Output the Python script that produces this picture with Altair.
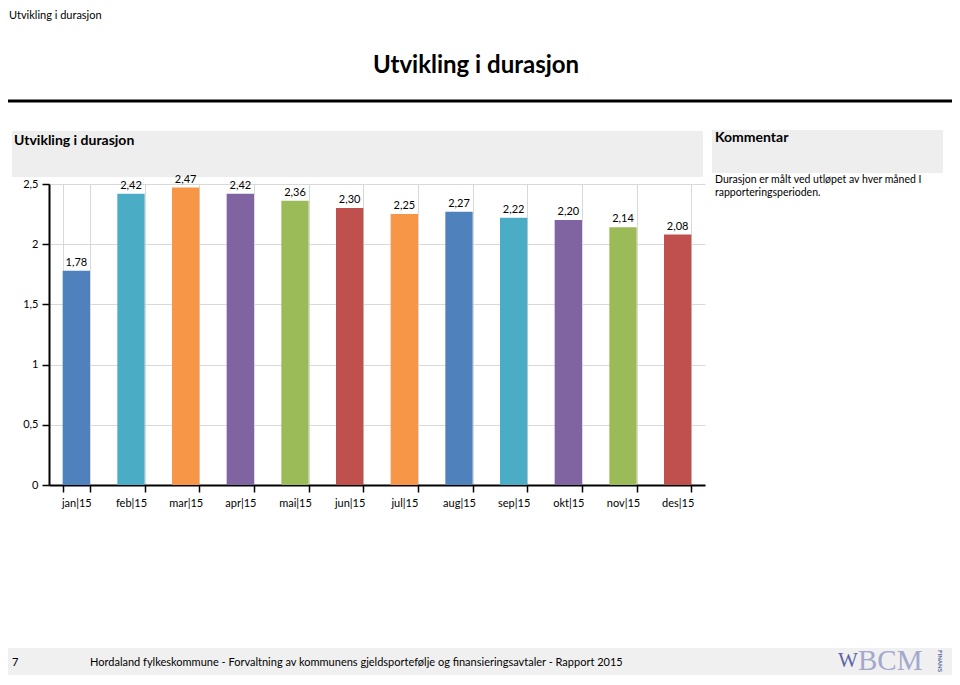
import altair as alt
import pandas as pd

months = ["jan|15", "feb|15", "mar|15", "apr|15", "mai|15", "jun|15",
          "jul|15", "aug|15", "sep|15", "okt|15", "nov|15", "des|15"]
durations = [1.78, 2.42, 2.47, 2.42, 2.36, 2.30, 2.25, 2.27, 2.22, 2.20, 2.14, 2.08]
bar_colors = ["#4F81BD", "#4BACC6", "#F79646", "#8064A2", "#9BBB59", "#C0504D",
              "#F79646", "#4F81BD", "#4BACC6", "#8064A2", "#9BBB59", "#C0504D"]
y_ticks = [0, 0.5, 1, 1.5, 2, 2.5]

FONT = "Lato"
df = pd.DataFrame({"month": months, "duration": durations})
dummy = alt.Data(values=[{"k": 1}])

x_enc = alt.X(
    "month:N", sort=months, title=None,
    scale=alt.Scale(paddingInner=0.5, paddingOuter=0.25),
    axis=alt.Axis(labelAngle=0, tickBand="extent", grid=True, gridColor="#d9d9d9",
                  domainColor="black", domainWidth=2, tickColor="black", tickWidth=1.5,
                  tickSize=7, labelPadding=5, labelFontSize=11, labelColor="black",
                  labelFont=FONT),
)
y_enc = alt.Y(
    "duration:Q", title=None,
    scale=alt.Scale(domain=[0, 2.5], nice=False),
    axis=alt.Axis(values=y_ticks, labelExpr="replace(format(datum.value, '~g'), '.', ',')",
                  grid=True, gridColor="#d9d9d9", domainColor="black", domainWidth=2,
                  tickColor="black", tickWidth=1.5, tickSize=7, labelPadding=4,
                  labelFontSize=11, labelColor="black", labelFont=FONT),
)

bars = alt.Chart(df).mark_bar().encode(
    x=x_enc, y=y_enc,
    color=alt.Color("month:N", scale=alt.Scale(domain=months, range=bar_colors), legend=None),
)
labels = alt.Chart(df).transform_calculate(
    lbl="replace(format(datum.duration, '.2f'), '.', ',')"
).mark_text(dy=-3, baseline="bottom", fontSize=11, font=FONT, color="black").encode(
    x=x_enc, y=y_enc, text="lbl:N"
)


def txt(s, x, y, size=11, weight="normal", align="left", color="black",
        font=FONT, angle=0, baseline="middle"):
    return alt.Chart(dummy).mark_text(
        text=s, fontSize=size, fontWeight=weight, align=align, color=color,
        font=font, angle=angle, baseline=baseline
    ).encode(x=alt.value(x), y=alt.value(y))


def rect(x1, x2, y1, y2, color):
    return alt.Chart(dummy).mark_rect(color=color).encode(
        x=alt.value(x1), x2=alt.value(x2), y=alt.value(y1), y2=alt.value(y2))


decor_back = [
    rect(-37, 654, -53, -7, "#eeeeee"),
    rect(663, 894, -54, -11, "#eeeeee"),
    rect(-49, 911, 464, 500, "#f0f0f0"),
    alt.Chart(dummy).mark_rule(color="black", strokeWidth=3).encode(
        x=alt.value(-49), x2=alt.value(911), y=alt.value(-83)),
]

decor_front = [
    txt("Utvikling i durasjon", -40, -174, size=11, baseline="top"),
    txt("Utvikling i durasjon", 427, -118, size=24, weight="bold", align="center"),
    txt("Utvikling i durasjon", -35, -43, size=14, weight="bold"),
    txt("Kommentar", 666, -46, size=14, weight="bold"),
    txt("Durasjon er målt ved utløpet av hver måned I", 666, -4, size=10.5),
    txt("rapporteringsperioden.", 666, 9, size=10.5),
    txt("7", -37, 479, size=11),
    txt("Hordaland fylkeskommune - Forvaltning av kommunens gjeldsportefølje og finansieringsavtaler  - Rapport 2015",
        41, 479, size=11),
    txt("W", 789, 477, size=21, color="#5b63a6", font="Liberation Serif"),
    txt("BCM", 809, 477, size=29, color="#a3a8cc", font="Liberation Serif"),
    txt("FINANS", 891, 477, size=6, weight="bold", color="#5b63a6", align="center", angle=90),
]

chart = alt.layer(*decor_back, bars, labels, *decor_front).properties(
    width=656, height=301,
    padding={"left": 41, "top": 176, "right": 247, "bottom": 190},
    autosize=alt.AutoSizeParams(type="none"),
).configure_view(strokeWidth=0)

chart.save("out.html", embed_options={"renderer": "svg", "actions": False})
